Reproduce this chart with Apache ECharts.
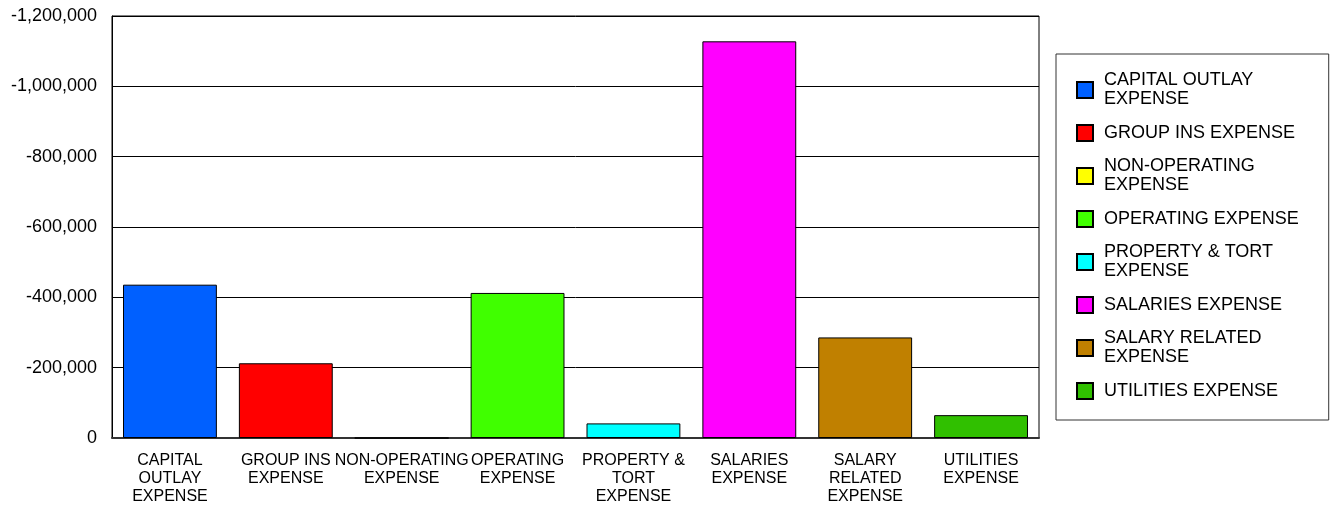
<!DOCTYPE html>
<html>
<head>
<meta charset="utf-8">
<title>Expense by Category</title>
<script src="https://cdn.jsdelivr.net/npm/echarts@6/dist/echarts.min.js"></script>
<style>
  html, body { margin: 0; padding: 0; background: #fff; }
  #chart { width: 1336px; height: 506px; }
</style>
</head>
<body>
<div id="chart"></div>
<script>
// Expense categories (series names)
const categories = [
  'CAPITAL OUTLAY EXPENSE',
  'GROUP INS EXPENSE',
  'NON-OPERATING EXPENSE',
  'OPERATING EXPENSE',
  'PROPERTY & TORT EXPENSE',
  'SALARIES EXPENSE',
  'SALARY RELATED EXPENSE',
  'UTILITIES EXPENSE'
];

// Wrapped labels under the category axis
const axisLabels = [
  'CAPITAL\nOUTLAY\nEXPENSE',
  'GROUP INS\nEXPENSE',
  'NON-OPERATING\nEXPENSE',
  'OPERATING\nEXPENSE',
  'PROPERTY &\nTORT\nEXPENSE',
  'SALARIES\nEXPENSE',
  'SALARY\nRELATED\nEXPENSE',
  'UTILITIES\nEXPENSE'
];

// Wrapped labels in the legend box
const legendLabels = [
  'CAPITAL OUTLAY\nEXPENSE',
  'GROUP INS EXPENSE',
  'NON-OPERATING\nEXPENSE',
  'OPERATING EXPENSE',
  'PROPERTY & TORT\nEXPENSE',
  'SALARIES EXPENSE',
  'SALARY RELATED\nEXPENSE',
  'UTILITIES EXPENSE'
];

// Net amounts per category
const amounts = [-436000, -212500, 0, -412500, -41500, -1128000, -286000, -65000];

// Fill colour per category
const colors = ['#0060ff', '#ff0000', '#ffff00', '#40ff00', '#00ffff', '#ff00ff', '#c08000', '#30c000'];

// Value axis ticks
const yMin = -1200000;
const yMax = 0;
const yStep = 200000;

const FONT = 'Liberation Sans, Arial, sans-serif';

const legendText = {};
categories.forEach((c, i) => { legendText[c] = legendLabels[i]; });

// One series per category, each holding only its own slot, overlapped in the band
const series = categories.map((name, i) => ({
  name: name,
  type: 'bar',
  barWidth: '81%',
  barGap: '-100%',
  data: amounts.map((v, j) => (j === i ? v : '-')),
  itemStyle: { color: colors[i], borderColor: '#000', borderWidth: 1 },
  emphasis: { disabled: true },
  animation: false
}));

const chart = echarts.init(document.getElementById('chart'), null, { renderer: 'canvas' });

chart.setOption({
  animation: false,
  textStyle: { fontFamily: FONT },
  grid: {
    left: 112, top: 16, right: 297, bottom: 67,
    show: true, borderColor: '#000', borderWidth: 1, backgroundColor: '#fff'
  },
  legend: {
    orient: 'vertical',
    left: 1056,
    top: 54,
    padding: [17, 30, 10, 20],
    itemGap: 5,
    itemWidth: 16,
    itemHeight: 16,
    icon: 'rect',
    borderColor: '#333',
    borderWidth: 1,
    selectedMode: false,
    data: categories,
    formatter: name => {
      const t = legendText[name];
      return t.indexOf('\n') >= 0
        ? t.split('\n').map(s => '{m|' + s + '}').join('\n')
        : '{s|' + t + '}';
    },
    textStyle: {
      fontFamily: FONT,
      fontSize: 18,
      color: '#000',
      rich: {
        m: { fontFamily: FONT, fontSize: 18, lineHeight: 19, height: 19, color: '#000', padding: [0, 0, 0, 6] },
        s: { fontFamily: FONT, fontSize: 18, lineHeight: 38, height: 38, color: '#000', padding: [0, 0, 0, 6] }
      }
    }
  },
  xAxis: {
    type: 'category',
    data: categories,
    axisLine: { show: true, lineStyle: { color: '#333', width: 2 } },
    axisTick: { show: false },
    axisLabel: {
      interval: 0,
      margin: 14,
      fontFamily: FONT,
      fontSize: 16,
      lineHeight: 18,
      color: '#000',
      formatter: (v, i) => axisLabels[i]
    }
  },
  yAxis: {
    type: 'value',
    inverse: true,
    min: yMin,
    max: yMax,
    interval: yStep,
    axisLine: { show: true, lineStyle: { color: '#000', width: 1 } },
    axisTick: { show: false },
    splitLine: { show: true, lineStyle: { color: '#000', width: 1 } },
    axisLabel: {
      margin: 15,
      fontFamily: FONT,
      fontSize: 18,
      color: '#000',
      formatter: v => Number(v).toLocaleString('en-US')
    }
  },
  series: series
});
</script>
</body>
</html>
